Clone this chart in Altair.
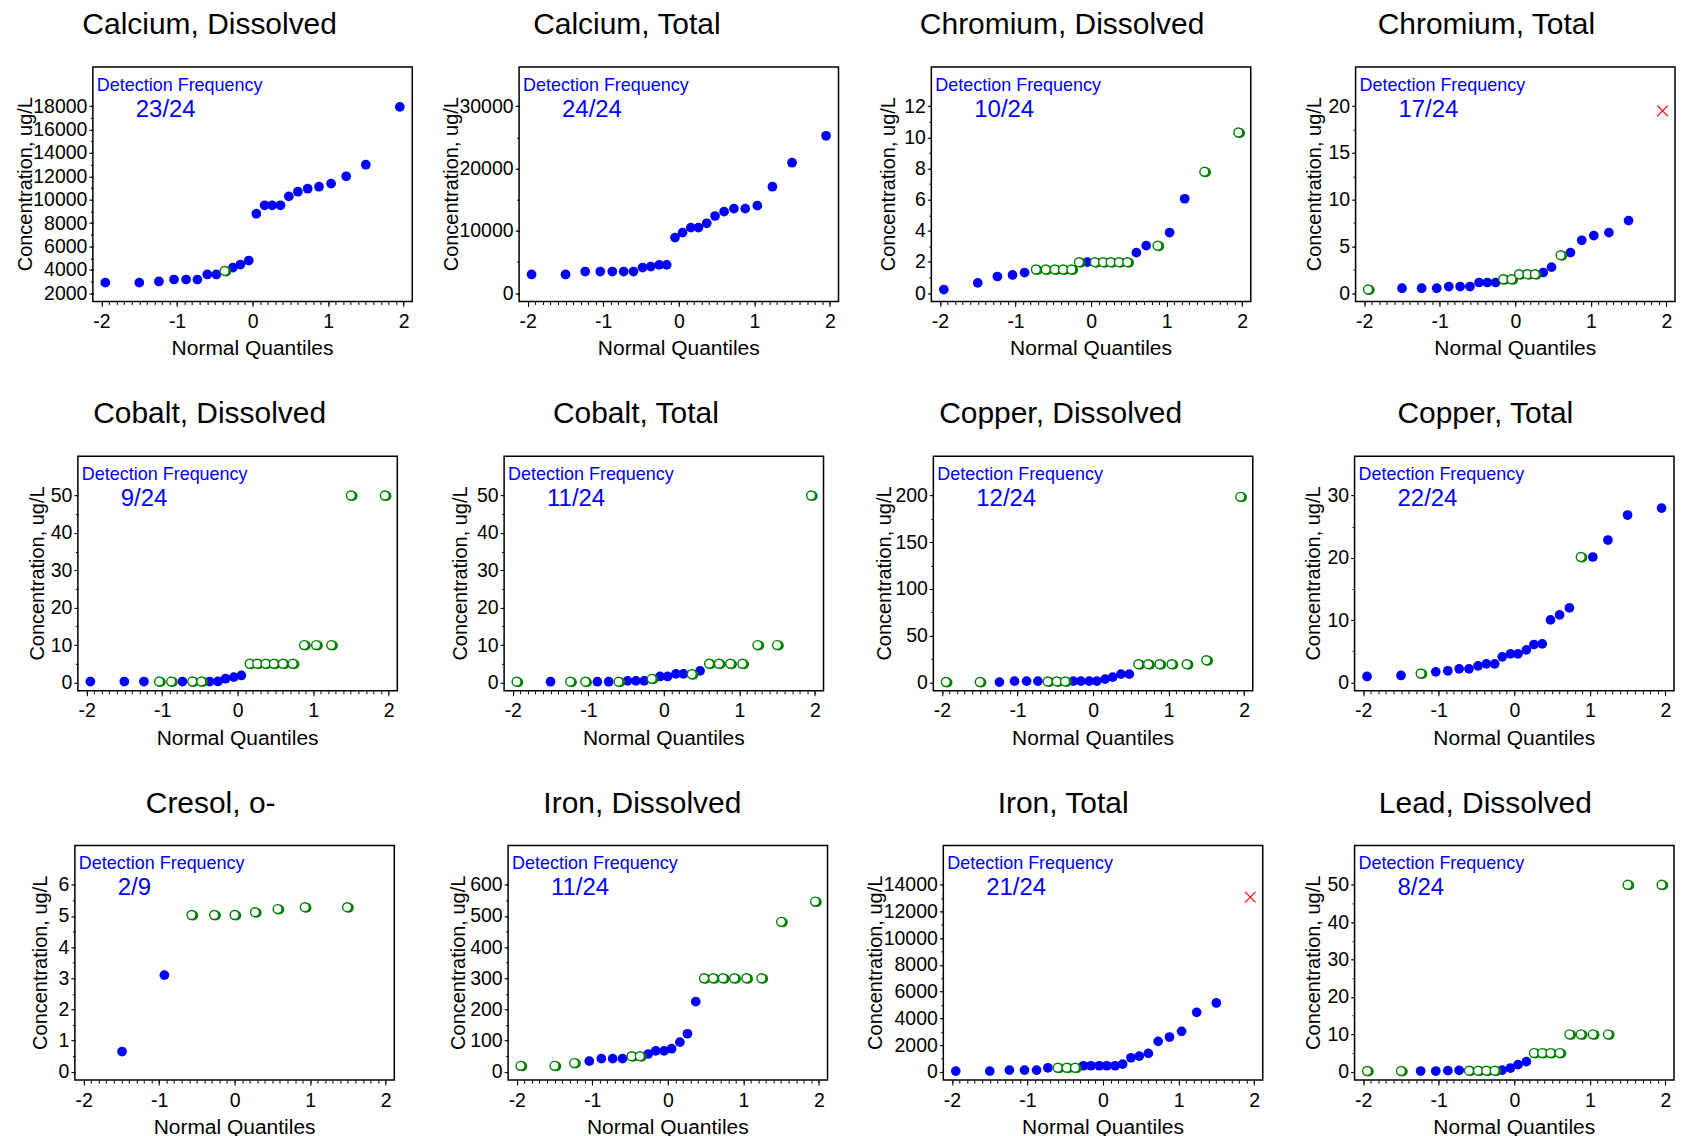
import altair as alt
import pandas as pd

# ---------------- data ----------------
Q24 = [-1.95, -1.50, -1.24, -1.04, -0.88, -0.73, -0.60, -0.48, -0.37, -0.26, -0.16, -0.05,
       0.05, 0.16, 0.26, 0.37, 0.48, 0.60, 0.73, 0.88, 1.04, 1.24, 1.50, 1.95]
Q9 = [-1.49, -0.93, -0.57, -0.27, 0.0, 0.27, 0.57, 0.93, 1.49]

PANEL_TITLES = ["Calcium, Dissolved", "Calcium, Total", "Chromium, Dissolved", "Chromium, Total",
                "Cobalt, Dissolved", "Cobalt, Total", "Copper, Dissolved", "Copper, Total",
                "Cresol, o-", "Iron, Dissolved", "Iron, Total", "Lead, Dissolved"]
DETECTION = ["23/24", "24/24", "10/24", "17/24", "9/24", "11/24",
             "12/24", "22/24", "2/9", "11/24", "21/24", "8/24"]

calcium_dissolved = [2900, 2900, 3000, 3170, 3170, 3170, 3600, 3600, 3900, 4190, 4450, 4790,
                     8800, 9520, 9520, 9520, 10280, 10680, 10940, 11110, 11370, 12000, 12990, 17940]
calcium_dissolved_flag = "DDDDDDDDNDDDDDDDDDDDDDDD"

calcium_total = [3000, 3000, 3470, 3470, 3470, 3470, 3470, 4110, 4270, 4540, 4540, 8915,
                 9715, 10510, 10510, 11210, 12380, 13080, 13560, 13560, 14040, 17080, 20930, 25250]
calcium_total_flag = "DDDDDDDDDDDDDDDDDDDDDDDD"

chromium_dissolved = [0.23, 0.66, 1.07, 1.17, 1.32, 1.52, 1.52, 1.52, 1.52, 1.52, 1.99, 1.99,
                      1.99, 1.99, 1.99, 1.99, 1.99, 2.6, 3.05, 3.05, 3.89, 6.06, 7.79, 10.31]
chromium_dissolved_flag = "DDDDDNNNNNNDNNNNNDDNDDNN"

chromium_total = [0.39, 0.53, 0.53, 0.53, 0.71, 0.71, 0.71, 1.14, 1.14, 1.14, 1.49, 1.49,
                  2.03, 2.03, 2.03, 2.21, 2.78, 4.06, 4.34, 5.66, 6.16, 6.48, 7.76, 19.5]
chromium_total_flag = "NDDDDDDDDDNNNNNDDNDDDDDX"

cobalt_dissolved = [0.25, 0.25, 0.25, 0.25, 0.25, 0.25, 0.25, 0.25, 0.25, 0.27, 1.0, 1.42,
                    1.87, 5, 5, 5, 5, 5, 5, 10, 10, 10, 50, 50]
cobalt_dissolved_flag = "DDDNNDNNDDDDDNNNNNNNNNNN"

cobalt_total = [0.2, 0.2, 0.2, 0.2, 0.2, 0.2, 0.2, 0.44, 0.44, 0.44, 0.98, 1.6,
                1.6, 2.3, 2.3, 2.2, 3.1, 5, 5, 5, 5, 10, 10, 50]
cobalt_total_flag = "NDNNDDNDDDNDDDDNDNNNNNNN"

copper_dissolved = [0.5, 0.5, 0.4, 1.4, 1.4, 1.4, 1.1, 1.1, 1.1, 1.4, 1.4, 1.4,
                    1.4, 3.6, 5.7, 8.9, 8.9, 19.6, 19.6, 19.6, 19.6, 19.6, 23.8, 198.6]
copper_dissolved_flag = "NNDDDDNNNDDDDDDDDNNNNNNN"

copper_total = [0.96, 1.12, 1.44, 1.7, 1.87, 2.19, 2.19, 2.67, 2.99, 2.99, 4.11, 4.59,
                4.59, 5.23, 6.09, 6.19, 10.04, 10.84, 11.96, 20.13, 20.13, 22.85, 26.86, 27.98]
copper_total_flag = "DDNDDDDDDDDDDDDDDDDNDDDD"

cresol_o = [0.65, 3.1, 5.03, 5.03, 5.03, 5.12, 5.22, 5.28, 5.28]
cresol_o_flag = "DDNNNNNNN"

iron_dissolved = [19, 19, 28, 34, 42, 42, 42, 50, 50, 57, 67, 67,
                  74, 95, 122, 225, 300, 300, 300, 300, 300, 300, 481, 546]
iron_dissolved_flag = "NNNDDDDNNDDDDDDDNNNNNNNN"

iron_total = [50, 50, 125, 125, 125, 300, 300, 300, 300, 450, 450, 450,
              450, 450, 575, 1050, 1175, 1375, 2275, 2600, 3025, 4450, 5150, 13075]
iron_total_flag = "DDDDDDNNNDDDDDDDDDDDDDDX"

lead_dissolved = [0.2, 0.2, 0.2, 0.2, 0.3, 0.4, 0.3, 0.3, 0.3, 0.3, 0.45, 1.0,
                  1.9, 2.7, 5, 5, 5, 5, 10, 10, 10, 10, 50, 50]
lead_dissolved_flag = "NNDDDDNNNNDDDDNNNNNNNNNN"

VALUES = [calcium_dissolved, calcium_total, chromium_dissolved, chromium_total,
          cobalt_dissolved, cobalt_total, copper_dissolved, copper_total,
          cresol_o, iron_dissolved, iron_total, lead_dissolved]
FLAGS = [calcium_dissolved_flag, calcium_total_flag, chromium_dissolved_flag, chromium_total_flag,
         cobalt_dissolved_flag, cobalt_total_flag, copper_dissolved_flag, copper_total_flag,
         cresol_o_flag, iron_dissolved_flag, iron_total_flag, lead_dissolved_flag]

Y_TICKS = [
    [2000, 4000, 6000, 8000, 10000, 12000, 14000, 16000, 18000],
    [0, 10000, 20000, 30000],
    [0, 2, 4, 6, 8, 10, 12],
    [0, 5, 10, 15, 20],
    [0, 10, 20, 30, 40, 50],
    [0, 10, 20, 30, 40, 50],
    [0, 50, 100, 150, 200],
    [0, 10, 20, 30],
    [0, 1, 2, 3, 4, 5, 6],
    [0, 100, 200, 300, 400, 500, 600],
    [0, 2000, 4000, 6000, 8000, 10000, 12000, 14000],
    [0, 10, 20, 30, 40, 50],
]
Y_MINOR_STEP = [1000, 5000, 1, 2.5, 5, 5, 25, 5, 0.5, 50, 1000, 5]
X_TICKS = [-2, -1, 0, 1, 2]

# ---------------- layout / style ----------------
FONT = "Liberation Sans"
W, H = 320, 235
XDOM = [-2.115, 2.115]
ROW_SPACER = [2, 14, 17]
EXT = [78, 105, 91, 103, 52, 105, 108, 100, 46, 112, 114, 90]
YT = [60.5, 61.4, 36.4, 35, 33.7, 37, 42.3, 34.4, 28, 43.4, 61.7, 34.4]
TITLE_CX = [117, 108, 131, 131, 132, 132, 127.5, 131, 136, 134.5, 120, 131]
BLUE, GREEN, RED = "#0000FF", "#008000", "#FF0000"


def frange(a, b, step):
    out, v = [], a
    while v <= b + 1e-9:
        out.append(round(v, 4))
        v += step
    return out


def make_panel(k):
    vals = VALUES[k]
    q = Q9 if len(vals) == 9 else Q24
    df = pd.DataFrame({"q": q, "v": vals, "f": list(FLAGS[k])})
    ticks = Y_TICKS[k]
    lo, hi = ticks[0], ticks[-1]
    ydom = [lo - 0.0445 * (hi - lo), hi + 0.21 * (hi - lo)]
    xs = alt.Scale(domain=XDOM, nice=False, zero=False)
    ys = alt.Scale(domain=ydom, nice=False, zero=False)
    D = EXT[k]

    x_major = alt.Axis(values=X_TICKS, orient="bottom", labelExpr="toString(datum.value)",
                       tickSize=5, labelPadding=6, domain=False, grid=False, title=None)
    y_major = alt.Axis(values=ticks, orient="left", format="d", tickSize=4, labelPadding=2,
                       domain=False, grid=False, minExtent=D, maxExtent=D, title=None)
    x_minor = alt.Axis(values=frange(-2, 2, 0.1), orient="bottom", labels=False, tickSize=3,
                       domain=False, grid=False, title=None, minExtent=0, maxExtent=0)
    y_minor = alt.Axis(values=frange(lo, hi, Y_MINOR_STEP[k]), orient="left", labels=False,
                       tickSize=2.5, domain=False, grid=False, minExtent=D, maxExtent=D, title=None)

    def enc(ch, xa=None, ya=None):
        return ch.encode(x=alt.X("q:Q", scale=xs, axis=xa), y=alt.Y("v:Q", scale=ys, axis=ya))

    base = alt.Chart(df)
    blue = enc(base.transform_filter("datum.f == 'D'").mark_circle(size=95, color=BLUE, opacity=1),
               x_major, y_major)
    minor = enc(base.mark_point(opacity=0), x_minor, y_minor)
    g_back = enc(base.transform_filter("datum.f == 'N'").mark_circle(
        size=100, color=GREEN, opacity=1, xOffset=1.7, yOffset=0.5))
    g_front = enc(base.transform_filter("datum.f == 'N'").mark_point(
        shape="circle", fill="white", stroke=GREEN, strokeWidth=1.4, size=80, opacity=1, fillOpacity=1))
    layers = [blue, minor, g_back, g_front]
    if "X" in FLAGS[k]:
        layers.append(enc(base.transform_filter("datum.f == 'X'").mark_point(
            shape="M-1,-1L1,1M1,-1L-1,1", filled=False, stroke=RED, strokeWidth=1.2, size=110, opacity=1)))

    def label(text, x, y, size, color="black", **kw):
        return alt.Chart(pd.DataFrame({"t": [text]})).mark_text(
            font=FONT, fontSize=size, color=color, **kw).encode(
            text="t:N", x=alt.value(x), y=alt.value(y))

    layers += [
        label("Detection Frequency", 4, 24, 18, BLUE, align="left", baseline="alphabetic"),
        label(DETECTION[k], 43, 50, 24, BLUE, align="left", baseline="alphabetic"),
        label(PANEL_TITLES[k], TITLE_CX[k], -33, 30, align="center", baseline="alphabetic"),
        label("Normal Quantiles", W / 2, H + 37, 21, align="center", baseline="top"),
        label("Concentration, ug/L", -YT[k], H / 2, 20, align="center", baseline="alphabetic", angle=270),
    ]
    return alt.layer(*layers).resolve_scale(x="shared", y="shared").resolve_axis(
        x="independent", y="independent").properties(width=W, height=H)


def spacer(w):
    return alt.Chart(pd.DataFrame({"a": [0]})).mark_point(opacity=0).encode(
        x=alt.value(0), y=alt.value(0)
    ).properties(width=w, height=1,
                 view=alt.ViewBackground(stroke="transparent", strokeWidth=0))


rows = []
for r in range(3):
    rows.append(alt.hconcat(spacer(ROW_SPACER[r]), *[make_panel(4 * r + c) for c in range(4)],
                            spacing=0))

chart = alt.vconcat(*rows, spacing=38).properties(padding=0).configure_view(
    stroke="black", strokeWidth=1.5
).configure_axis(
    labelFont=FONT, labelFontSize=19.5, labelColor="black", tickColor="black", tickWidth=1
)

chart.save("out.html", embed_options={"renderer": "svg", "actions": False})
